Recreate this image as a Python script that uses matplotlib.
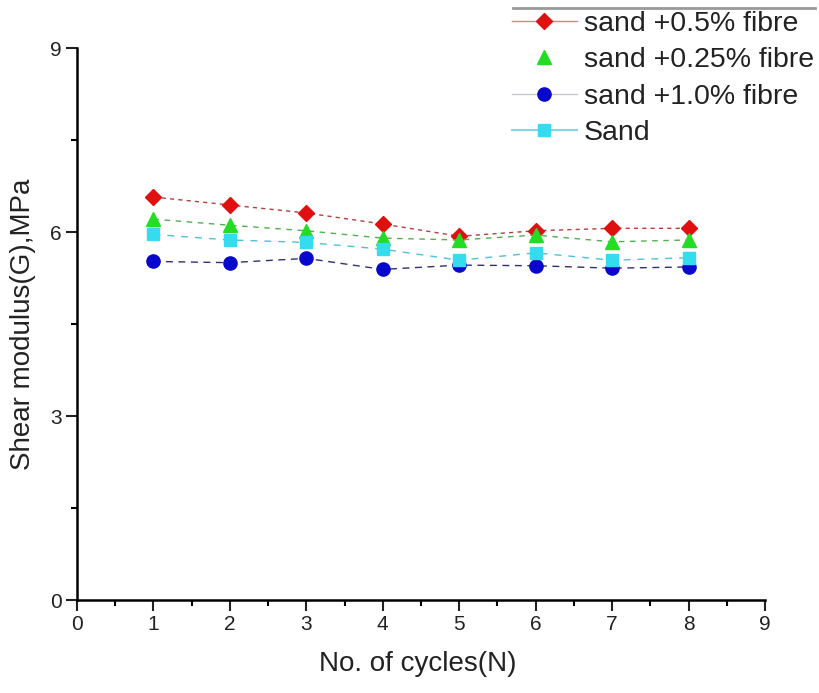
import matplotlib
matplotlib.use("Agg")
import matplotlib.pyplot as plt
from matplotlib.lines import Line2D
from matplotlib.ticker import MultipleLocator

plt.rcParams['font.family'] = ['Liberation Sans', 'DejaVu Sans']

cycles = [1, 2, 3, 4, 5, 6, 7, 8]
fibre_05 = [6.57, 6.44, 6.31, 6.13, 5.93, 6.02, 6.06, 6.06]
fibre_025 = [6.21, 6.11, 6.02, 5.90, 5.87, 5.95, 5.84, 5.87]
fibre_10 = [5.52, 5.50, 5.57, 5.39, 5.46, 5.45, 5.41, 5.43]
sand = [5.96, 5.87, 5.83, 5.72, 5.54, 5.66, 5.54, 5.58]

labels = ["sand +0.5% fibre", "sand +0.25% fibre", "sand +1.0% fibre", "Sand"]
xticks = [0, 1, 2, 3, 4, 5, 6, 7, 8, 9]
yticks = [0, 3, 6, 9]

fig = plt.figure(figsize=(8.2, 6.93), dpi=100)
ax = fig.add_axes([77/820, 1-600/693, 688/820, 552/693])

series = [
    (fibre_05, 'D', '#e01010', '#b04040', (0, (3, 3)), 8),
    (fibre_025, '^', '#22dd22', '#50b050', (0, (4, 4)), 9.5),
    (fibre_10, 'o', '#0808cc', '#303070', (0, (5, 4)), 9.5),
    (sand, 's', '#33ddee', '#50c0d8', (0, (5, 5)), 8.5),
]
for (vals, mk, mc, lc, ls, ms), lab in zip(series, labels):
    ax.plot(cycles, vals, linestyle=ls, color=lc, linewidth=1.0)
    ax.plot(cycles, vals, linestyle='none', marker=mk, markersize=ms,
            markerfacecolor=mc, markeredgecolor=mc)
handles = [
    Line2D([], [], color='#e08080', lw=1, marker='D', ms=8, mfc='#e01010', mec='#e01010'),
    Line2D([], [], color='none', lw=1, marker='^', ms=9.5, mfc='#22dd22', mec='#22dd22'),
    Line2D([], [], color='#c8c8d0', lw=1, marker='o', ms=9.5, mfc='#0808cc', mec='#0808cc'),
    Line2D([], [], color='#80d8e8', lw=1.5, marker='s', ms=8.5, mfc='#33ddee', mec='#33ddee'),
]

ax.set_xlim(0, 9)
ax.set_ylim(0, 9)
ax.set_xticks(xticks)
ax.set_yticks(yticks)
ax.xaxis.set_minor_locator(MultipleLocator(0.5))
ax.yaxis.set_minor_locator(MultipleLocator(1.5))
ax.spines['top'].set_visible(False)
ax.spines['right'].set_visible(False)
for s in ['left', 'bottom']:
    ax.spines[s].set_linewidth(1.8)
ax.tick_params(which='major', direction='out', length=8, width=1.5, labelsize=15, colors='#222222')
ax.tick_params(which='minor', direction='out', length=4, width=1.5)
ax.tick_params(axis='x', pad=3)
ax.tick_params(axis='y', pad=3)

ax.set_xlabel("No. of cycles(N)", fontsize=20, color='#222222')
ax.set_ylabel("Shear modulus(G),MPa", fontsize=20, color='#222222')
ax.xaxis.set_label_coords(0.496, -0.092)
ax.yaxis.set_label_coords(-0.078, 0.5)
ax.yaxis.label.set_verticalalignment('center')

leg = fig.legend(handles, labels, loc='upper left', bbox_to_anchor=(512/820, 1-11/693),
                 frameon=False, fontsize=20.5, handlelength=2.27, handletextpad=0.25,
                 labelspacing=0.36, borderpad=0, borderaxespad=0)
for t in leg.get_texts():
    t.set_color('#222222')
fig.add_artist(Line2D([513/820, 815/820], [1-8/693, 1-8/693], color='#999999', lw=2,
                      transform=fig.transFigure))

fig.savefig("out.png", dpi=100)
